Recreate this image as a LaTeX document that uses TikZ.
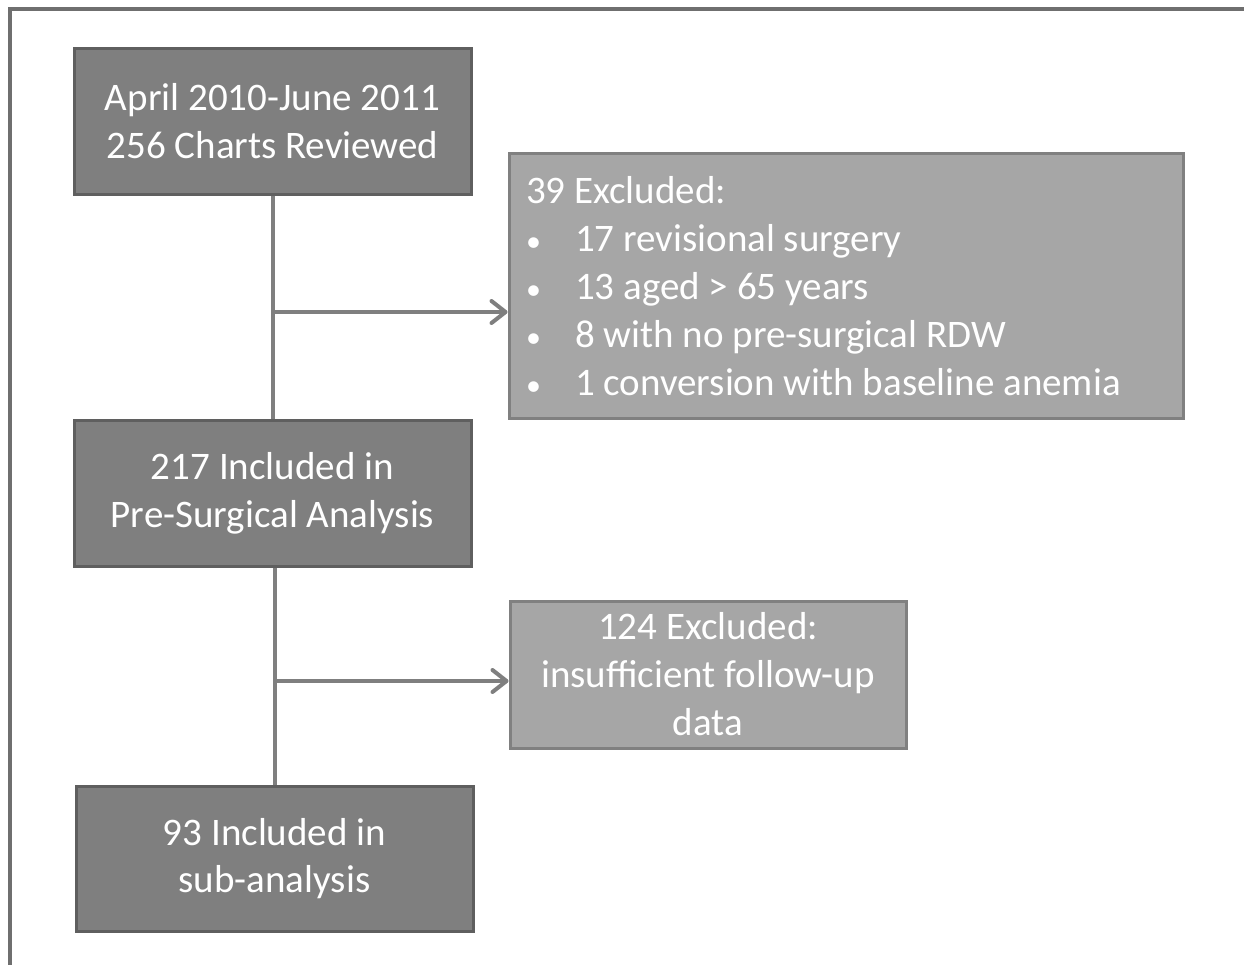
\documentclass[tikz,border=0pt]{standalone}
\usepackage{fontspec}
\setmainfont{Carlito}
\usetikzlibrary{arrows.meta}
\definecolor{darkbox}{HTML}{7F7F7F}
\definecolor{darkedge}{HTML}{5F5F5F}
\definecolor{lightbox}{HTML}{A6A6A6}
\definecolor{lightedge}{HTML}{808080}
\definecolor{flowline}{HTML}{7F7F7F}
\tikzset{
  stage/.style={draw=darkedge, fill=darkbox, line width=3pt, text=white,
    minimum width=397pt, minimum height=146pt, align=center,
    font=\fontsize{39}{47.5}\selectfont, inner sep=0pt},
  excl/.style={draw=lightedge, fill=lightbox, line width=3pt, text=white,
    inner sep=0pt, font=\fontsize{39}{48}\selectfont},
  flow/.style={draw=flowline, line width=4pt},
  flowarrow/.style={flow, -{Straight Barb[length=14pt,width=22pt,line cap=round,line join=round]}}
}
\newcommand{\bul}{\makebox[49pt][l]{\hspace{0pt}{\fontsize{30}{30}\selectfont •}}}
\begin{document}
\begin{tikzpicture}[x=1pt,y=-1pt]
  \useasboundingbox (0,0) rectangle (1244,964);
  % Frame
  \draw [line width=4pt, draw=darkedge!90] (10,966) -- (10,9) -- (1246,9);
  % Draw boxes
  \node (charts) [stage] at (272.5,121) {April 2010-June 2011\\256 Charts Reviewed};
  \node (presurg) [stage] at (272.5,493.5) {217 Included in\\Pre-Surgical Analysis};
  \node (sub) [stage, minimum height=145pt] at (274.5,858.5) {93 Included in\\sub-analysis};
  \node (exclA) [excl, minimum width=674pt, minimum height=265pt] at (846,285.5)
        {\raisebox{-4pt}[\height][\depth]{\begin{tabular}{@{}p{640pt}@{}}
         39 Excluded:\\
         \bul 17 revisional surgery\\
         \bul 13 aged > 65 years\\
         \bul 8 with no pre-surgical RDW\\
         \bul 1 conversion with baseline anemia
         \end{tabular}}};
  \node (exclB) [excl, minimum width=396pt, minimum height=147pt, align=center]
        at (708,674.5) {124 Excluded:\\insufficient follow-up\\data};
  % Draw connectors
  \coordinate (jA) at (273,312);
  \coordinate (jB) at (275,681);
  \draw [flow] (charts.south -| jA) -- (presurg.north -| jA);
  \draw [flowarrow] (jA) -- (jA -| exclA.west);
  \draw [flow] (presurg.south -| jB) -- (sub.north -| jB);
  \draw [flowarrow] (jB) -- (jB -| exclB.west);
\end{tikzpicture}
\end{document}
